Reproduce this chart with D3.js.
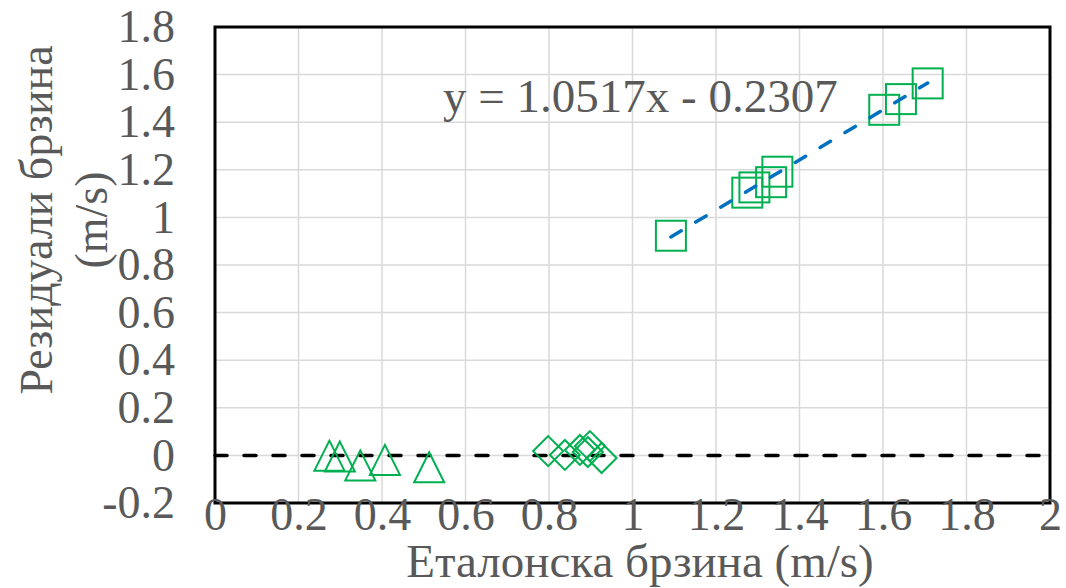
<!DOCTYPE html>
<html><head><meta charset="utf-8">
<script src="https://cdn.jsdelivr.net/npm/d3@7"></script>
<style>html,body{margin:0;padding:0;background:#fff;}svg{display:block;font-family:"Liberation Serif",serif;}</style>
</head><body>
<svg id="c" width="1066" height="588"></svg>
<script>
// Data
const triX = [0.274, 0.299, 0.348, 0.407, 0.513];
const triY = [-0.001, -0.005, -0.042, -0.019, -0.050];
const diaX = [0.798, 0.838, 0.874, 0.893, 0.898, 0.926];
const diaY = [0.018, 0.002, 0.023, 0.014, 0.039, -0.011];
const sqX = [1.092, 1.275, 1.292, 1.332, 1.347, 1.603, 1.643, 1.707];
const sqY = [0.923, 1.104, 1.126, 1.148, 1.192, 1.452, 1.497, 1.563];
const trendSlope = 1.0517, trendIntercept = -0.2307;
const equationLabel = "y = 1.0517x - 0.2307";
const xTicks = [0, 0.2, 0.4, 0.6, 0.8, 1, 1.2, 1.4, 1.6, 1.8, 2];
const yTicks = [-0.2, 0, 0.2, 0.4, 0.6, 0.8, 1, 1.2, 1.4, 1.6, 1.8];
const xTitle = "Еталонска брзина (m/s)";
const yTitle = ["Резидуали брзина", "(m/s)"];

const svg = d3.select("#c");
const L = 215, R = 1050, T = 27, B = 503;
const x = d3.scaleLinear().domain([0, 2]).range([L, R]);
const y = d3.scaleLinear().domain([-0.2, 1.8]).range([B, T]);
const txt = "#595959", green = "#00B050";
const FS = "46px", FF = "Liberation Serif";

// gridlines
svg.append("g").selectAll("line").data(xTicks).join("line")
  .attr("x1", d => x(d)).attr("x2", d => x(d)).attr("y1", T).attr("y2", B)
  .attr("stroke", "#d9d9d9").attr("stroke-width", 1.5);
svg.append("g").selectAll("line").data(yTicks).join("line")
  .attr("x1", L).attr("x2", R).attr("y1", d => y(d)).attr("y2", d => y(d))
  .attr("stroke", "#d9d9d9").attr("stroke-width", 1.5);

// zero line
svg.append("line").attr("x1", L).attr("x2", R).attr("y1", y(0)).attr("y2", y(0))
  .attr("stroke", "#000").attr("stroke-width", 3.5).attr("stroke-dasharray", "12,17")
  .attr("stroke-linecap", "round");

// frame
svg.append("rect").attr("x", L).attr("y", T).attr("width", R - L).attr("height", B - T)
  .attr("fill", "none").attr("stroke", "#000").attr("stroke-width", 3);

// axes labels via d3 axes
const xa = svg.append("g").attr("transform", `translate(0,${B})`)
  .call(d3.axisBottom(x).tickValues(xTicks).tickFormat(d => String(d)).tickSize(0).tickPadding(-6));
xa.select(".domain").remove();
xa.selectAll("text").attr("fill", txt).style("font-size", FS).style("font-family", FF);
const ya = svg.append("g").attr("transform", `translate(${L},0)`)
  .call(d3.axisLeft(y).tickValues(yTicks).tickFormat(d => String(d)).tickSize(0).tickPadding(40));
ya.select(".domain").remove();
ya.selectAll("text").attr("fill", txt).style("font-size", FS).style("font-family", FF);

// markers
const triPts = triX.map((v, i) => [v, triY[i]]);
const diaPts = diaX.map((v, i) => [v, diaY[i]]);
const sqPts = sqX.map((v, i) => [v, sqY[i]]);
const s = 15;
svg.append("g").selectAll("path").data(triPts).join("path")
  .attr("d", d => { const cx = x(d[0]), cy = y(d[1]); return `M${cx},${cy - s}L${cx + s},${cy + s}L${cx - s},${cy + s}Z`; })
  .attr("fill", "none").attr("stroke", green).attr("stroke-width", 2);
svg.append("g").selectAll("path").data(diaPts).join("path")
  .attr("d", d => { const cx = x(d[0]), cy = y(d[1]); return `M${cx},${cy - s}L${cx + s},${cy}L${cx},${cy + s}L${cx - s},${cy}Z`; })
  .attr("fill", "none").attr("stroke", green).attr("stroke-width", 2);
svg.append("g").selectAll("rect").data(sqPts).join("rect")
  .attr("x", d => x(d[0]) - s).attr("y", d => y(d[1]) - s).attr("width", 2 * s).attr("height", 2 * s)
  .attr("fill", "none").attr("stroke", green).attr("stroke-width", 2);

// trendline
const tx0 = d3.min(sqX), tx1 = d3.max(sqX);
svg.append("line")
  .attr("x1", x(tx0)).attr("y1", y(trendSlope * tx0 + trendIntercept))
  .attr("x2", x(tx1)).attr("y2", y(trendSlope * tx1 + trendIntercept))
  .attr("stroke", "#0070C0").attr("stroke-width", 3.5).attr("stroke-dasharray", "12,17")
  .attr("stroke-linecap", "round");

// equation
svg.append("text").attr("x", 443).attr("y", 112).attr("fill", txt)
  .style("font-size", "47px").text(equationLabel);

// titles
svg.append("text").attr("x", 640).attr("y", 577).attr("text-anchor", "middle")
  .attr("fill", txt).style("font-size", "47px").text(xTitle);
const yt = svg.append("text").attr("transform", "translate(52,220) rotate(-90)")
  .attr("text-anchor", "middle").attr("fill", txt).style("font-size", FS);
yt.append("tspan").attr("x", 0).attr("y", 0).text(yTitle[0]);
yt.append("tspan").attr("x", 0).attr("y", 55).text(yTitle[1]);
</script>
</body></html>
